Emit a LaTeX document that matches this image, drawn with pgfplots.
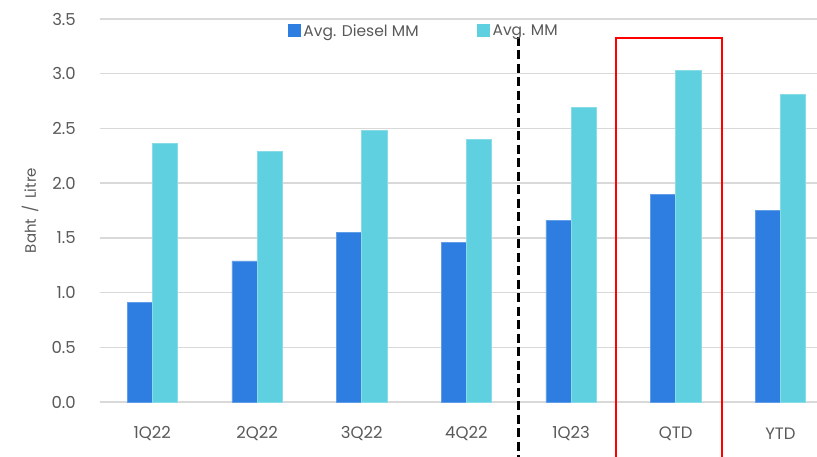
\documentclass[border=0pt]{standalone}
\usepackage{fontspec}
\setmainfont{Poppins}
\usepackage{pgfplots}
\pgfplotsset{compat=1.18}
\usetikzlibrary{calc}

\definecolor{diesel}{HTML}{2E7DE1}
\definecolor{mm}{HTML}{5FD0E0}
\definecolor{txt}{HTML}{595959}
\definecolor{grd}{HTML}{D9D9D9}

\begin{document}
\begin{tikzpicture}
\begin{axis}[
    name=ax,
    scale only axis,
    width=717pt, height=383pt,
    xmin=-0.5, xmax=6.35,
    ymin=0, ymax=3.5,
    xtick={0,1,2,3,4,5,6},
    xticklabels={1Q22,2Q22,3Q22,4Q22,1Q23,QTD,YTD},
    ytick={0,0.5,1,1.5,2,2.5,3,3.5},
    /pgf/number format/fixed,
    /pgf/number format/fixed zerofill,
    /pgf/number format/precision=1,
    /pgf/number format/assume math mode=true,
    ymajorgrids=true,
    grid style={draw=grd, line width=1.3pt},
    axis line style={draw=none},
    major tick length=0pt,
    tick label style={font=\fontsize{16.5}{18}\selectfont, text=txt},
    xticklabel style={anchor=center, yshift=-32pt},
    yticklabel style={anchor=east, inner sep=0pt, xshift=-24pt},
    ylabel={Baht \,/\, Litre},
    ylabel style={at={(axis description cs:-0.0976,0.5)}, anchor=center,
        font=\fontsize{15}{17}\selectfont, text=txt},
    legend columns=2,
    legend style={draw=none, fill=none, at={(axis description cs:0.452,0.969)},
        anchor=center, font=\fontsize{15.5}{17}\selectfont, text=txt,
        nodes={inner sep=2.5pt},
        /tikz/every even column/.append style={column sep=56pt}},
    legend image code/.code={\path[#1, draw=none] (0pt,-6pt) rectangle (13pt,7pt);},
    clip=false,
]
\addplot[ybar, bar width=0.24, bar shift=-0.12, fill=diesel, draw=diesel!75!white, line width=0.5pt]
    coordinates {(0,0.91)(1,1.29)(2,1.55)(3,1.46)(4,1.66)(5,1.90)(6,1.75)};
\addplot[ybar, bar width=0.24, bar shift=0.12, fill=mm, draw=mm!75!white, line width=0.5pt]
    coordinates {(0,2.36)(1,2.29)(2,2.48)(3,2.40)(4,2.69)(5,3.03)(6,2.81)};
\legend{Avg. Diesel MM, Avg. MM}

\draw[black, line width=3pt, dash pattern=on 9pt off 4.5pt]
    (axis cs:3.5,3.34) -- (axis cs:3.5,-0.7);
\draw[red, line width=2pt]
    (axis cs:4.43,-0.7) -- (axis cs:4.43,3.33) -- (axis cs:5.44,3.33) -- (axis cs:5.44,-0.7);
\end{axis}
\pgfresetboundingbox
\path[use as bounding box] ($(ax.south west)+(-100pt,-55pt)$) rectangle ($(ax.north east)+(0pt,19pt)$);
\end{tikzpicture}
\end{document}
